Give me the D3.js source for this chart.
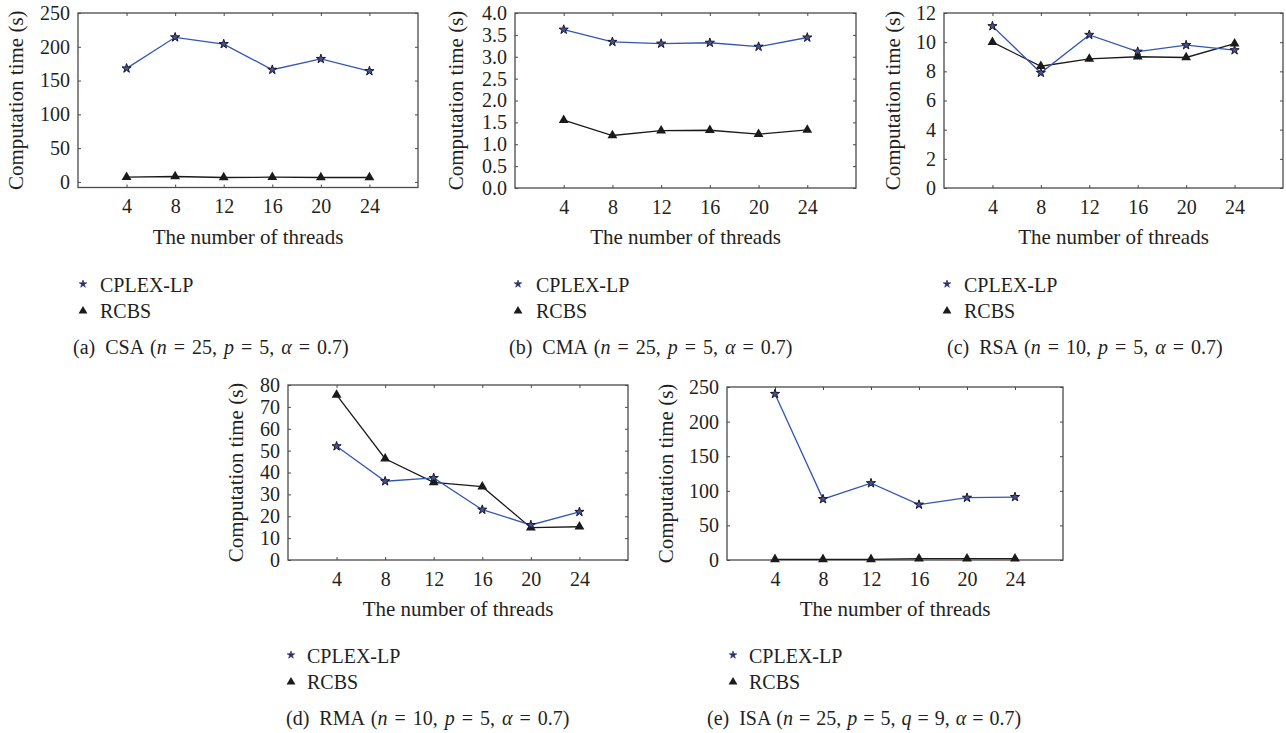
<!DOCTYPE html>
<html><head><meta charset="utf-8">
<script src="https://cdn.jsdelivr.net/npm/d3@7"></script>
<style>
body{margin:0;background:#fff;}
svg text{font-family:"Liberation Serif","Times New Roman",serif;fill:#231f20;}
</style></head>
<body><svg id="c" width="1286" height="733"></svg>
<script>
// ---- data ----
const threads = [4, 8, 12, 16, 20, 24];
const xTickLabels = ["4", "8", "12", "16", "20", "24"];
const seriesNames = ["CPLEX-LP", "RCBS"];

const cplexCSA = [168, 214, 204, 166, 182, 164];
const rcbsCSA  = [7, 8, 6.5, 7, 6.5, 6.5];
const cplexCMA = [3.62, 3.34, 3.30, 3.32, 3.23, 3.44];
const rcbsCMA  = [1.55, 1.20, 1.31, 1.32, 1.23, 1.33];
const cplexRSA = [11.1, 7.9, 10.5, 9.35, 9.8, 9.45];
const rcbsRSA  = [10.0, 8.35, 8.85, 9.0, 8.95, 9.9];
const cplexRMA = [52, 36, 37.5, 23, 16, 22];
const rcbsRMA  = [75.5, 46.3, 35.5, 33.5, 14.8, 15.2];
const cplexISA = [240, 88, 111, 80, 90, 91];
const rcbsISA  = [1, 1, 1, 2, 2, 2];

const yTicksCSA = [0, 50, 100, 150, 200, 250];
const yTicksCMA = [0, 0.5, 1, 1.5, 2, 2.5, 3, 3.5, 4];
const yTicksRSA = [0, 2, 4, 6, 8, 10, 12];
const yTicksRMA = [0, 10, 20, 30, 40, 50, 60, 70, 80];
const yTicksISA = [0, 50, 100, 150, 200, 250];

const captionLetters = ["(a)", "(b)", "(c)", "(d)", "(e)"];
const captionNames = ["CSA", "CMA", "RSA", "RMA", "ISA"];
const captionParams = [
  [["n","25"],["p","5"],["α","0.7"]],
  [["n","25"],["p","5"],["α","0.7"]],
  [["n","10"],["p","5"],["α","0.7"]],
  [["n","10"],["p","5"],["α","0.7"]],
  [["n","25"],["p","5"],["q","9"],["α","0.7"]]
];
const yLabel = "Computation time (s)";
const xLabel = "The number of threads";

// ---- layout ----
const panels = [
  {x0:78,  x1:418,  y0:13,  y1:187.5, ydom:[-8.3,250], yt:yTicksCSA, fmt:d3.format("d"),   c:cplexCSA, r:rcbsCSA, ylx:55, lx:83,  ltx:100, cx:73,  ly:284, ws:2},
  {x0:515, x1:856,  y0:13,  y1:188,   ydom:[0,4],      yt:yTicksCMA, fmt:d3.format(".1f"), c:cplexCMA, r:rcbsCMA, ylx:52, lx:518, ltx:536, cx:509, ly:284, ws:2},
  {x0:944, x1:1283, y0:13,  y1:188,   ydom:[0,12],     yt:yTicksRSA, fmt:d3.format("d"),   c:cplexRSA, r:rcbsRSA, ylx:44, lx:947, ltx:964, cx:947, ly:284, ws:2},
  {x0:288, x1:628,  y0:385, y1:560,   ydom:[0,80],     yt:yTicksRMA, fmt:d3.format("d"),   c:cplexRMA, r:rcbsRMA, ylx:45, lx:291, ltx:307, cx:286, ly:655, ws:2},
  {x0:727, x1:1063, y0:387, y1:560,   ydom:[0,250],    yt:yTicksISA, fmt:d3.format("d"),   c:cplexISA, r:rcbsISA, ylx:54, lx:733, ltx:749, cx:707, ly:655, ws:1}
];

const svg = d3.select("#c");
const blue = "#3356b5", dark = "#1a1a1a", boxc = "#4a4a4a";
const star = d3.symbol().type(d3.symbolStar).size(26);
const tri = d3.symbol().type(d3.symbolTriangle).size(42);
const starL = d3.symbol().type(d3.symbolStar).size(18);
const triL = d3.symbol().type(d3.symbolTriangle).size(34);

panels.forEach((p, i) => {
  const g = svg.append("g");
  const x = d3.scaleLinear().domain([0, 28]).range([p.x0, p.x1]);
  const y = d3.scaleLinear().domain(p.ydom).range([p.y1, p.y0]);

  const tl = 3;
  g.append("g").attr("transform", `translate(0,${p.y1})`)
    .call(d3.axisBottom(x).tickValues(threads).tickFormat((d,k)=>xTickLabels[k]).tickSizeInner(-tl).tickSizeOuter(0).tickPadding(10))
    .call(a => { a.select(".domain").remove(); a.selectAll("line").attr("stroke", boxc);
      a.selectAll("text").attr("font-size", 20).attr("dy", null).attr("y", 25.5).attr("fill","#231f20"); });
  g.append("g").attr("transform", `translate(0,${p.y0})`)
    .call(d3.axisTop(x).tickValues(threads).tickSizeInner(-tl).tickSizeOuter(0))
    .call(a => { a.select(".domain").remove(); a.selectAll("line").attr("stroke", boxc); a.selectAll("text").remove(); });
  g.append("g").attr("transform", `translate(${p.x0},0)`)
    .call(d3.axisLeft(y).tickValues(p.yt).tickFormat(p.fmt).tickSizeInner(-tl).tickSizeOuter(0).tickPadding(8))
    .call(a => { a.select(".domain").remove(); a.selectAll("line").attr("stroke", boxc);
      a.selectAll("text").attr("font-size", 20).attr("fill","#231f20"); });
  g.append("g").attr("transform", `translate(${p.x1},0)`)
    .call(d3.axisRight(y).tickValues(p.yt).tickSizeInner(-tl).tickSizeOuter(0))
    .call(a => { a.select(".domain").remove(); a.selectAll("line").attr("stroke", boxc); a.selectAll("text").remove(); });

  g.append("rect").attr("x", p.x0).attr("y", p.y0).attr("width", p.x1 - p.x0).attr("height", p.y1 - p.y0)
    .attr("fill", "none").attr("stroke", boxc).attr("stroke-width", 1.3);

  const line = d3.line().x((d,k)=>x(threads[k])).y(d=>y(d));
  g.append("path").datum(p.r).attr("d", line).attr("fill","none").attr("stroke", dark).attr("stroke-width", 1.3);
  g.append("path").datum(p.c).attr("d", line).attr("fill","none").attr("stroke", blue).attr("stroke-width", 1.3);

  g.selectAll(".tri").data(p.r).join("path").attr("d", tri)
    .attr("transform",(d,k)=>`translate(${x(threads[k])},${y(d)})`).attr("fill", dark);
  g.selectAll(".star").data(p.c).join("path").attr("d", star)
    .attr("transform",(d,k)=>`translate(${x(threads[k])},${y(d)})`).attr("fill", "#4a5288").attr("stroke", "#15172e").attr("stroke-width", 1);

  g.append("text").attr("transform", `translate(${p.x0 - p.ylx},${(p.y0+p.y1)/2}) rotate(-90)`)
    .attr("text-anchor","middle").attr("font-size", 21).text(yLabel);
  g.append("text").attr("x", (p.x0+p.x1)/2).attr("y", p.y1 + 56).attr("text-anchor","middle")
    .attr("font-size", 21).text(xLabel);

  g.append("path").attr("d", starL).attr("transform", `translate(${p.lx},${p.ly})`).attr("fill", "#2b2f6b").attr("stroke","#2b2f6b").attr("stroke-width",0.6);
  g.append("text").attr("x", p.ltx).attr("y", p.ly + 7.5).attr("font-size", 20).text(seriesNames[0]);
  g.append("path").attr("d", triL).attr("transform", `translate(${p.lx},${p.ly + 27})`).attr("fill", dark);
  g.append("text").attr("x", p.ltx).attr("y", p.ly + 33.5).attr("font-size", 20).text(seriesNames[1]);

  const cap = g.append("text").attr("x", p.cx).attr("y", p.ly + 70).attr("font-size", 20)
    .attr("word-spacing", p.ws).attr("xml:space","preserve");
  cap.append("tspan").text(captionLetters[i] + "\u2002" + captionNames[i] + " (");
  captionParams[i].forEach((pp, k) => {
    cap.append("tspan").attr("font-style","italic").text(pp[0]);
    cap.append("tspan").text(" = " + pp[1] + (k < captionParams[i].length - 1 ? ", " : ")"));
  });
});
</script></body></html>
